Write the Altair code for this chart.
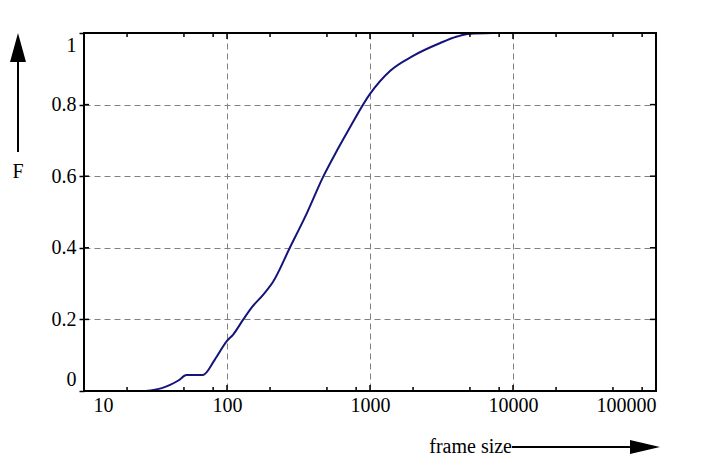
"""CDF of frame sizes on a log axis."""
import altair as alt
import pandas as pd

# curve
frame_size = [27, 35, 40, 46, 52, 68, 82, 100, 110, 130, 150, 180, 210, 275,
              362, 470, 590, 725, 1000, 1380, 2000, 3100, 4060, 5000, 7200]
cdf = [0, 0.008, 0.017, 0.03, 0.045, 0.045, 0.087, 0.14, 0.157, 0.2, 0.235,
       0.27, 0.305, 0.40, 0.497, 0.598, 0.673, 0.737, 0.83, 0.894,
       0.936, 0.972, 0.99, 0.998, 1.0]

x_major = [10, 100, 1000, 10000, 100000]
x_minor = [20, 50, 80, 200, 500, 800, 2000, 5000, 8000, 20000, 50000, 80000]
y_major = [0, 0.2, 0.4, 0.6, 0.8, 1]

W, H = 572, 358
FONT = "Liberation Serif"

x_scale = alt.Scale(type="log", domain=[10, 100000], nice=False)
y_scale = alt.Scale(domain=[0, 1], nice=False, zero=False)

# same axis objects on every layer so vega-lite merges them
x_axis = alt.Axis(values=x_major, format="d", ticks=False, labelFlush=True,
                  labelFont=FONT, labelFontSize=20, labelColor="black",
                  labelPadding=4, gridDash=[6, 4], gridColor="#808080",
                  labelOffset={"condition": {"test": "datum.value <= 10", "value": 9},
                               "value": 0})
y_axis = alt.Axis(values=y_major, format="~g", tickSize=5, tickColor="black",
                  labelFont=FONT, labelFontSize=20, labelColor="black",
                  tickWidth=1.5, labelPadding=3, labelFlush=True, labelFlushOffset=-2,
                  gridDash=[6, 4], gridColor="#808080")

curve = pd.DataFrame({"size": frame_size, "F": cdf})

line = alt.Chart(curve).mark_line(color="#14147a", strokeWidth=2, interpolate="monotone").encode(
    x=alt.X("size:Q", scale=x_scale, title=None, axis=x_axis),
    y=alt.Y("F:Q", scale=y_scale, title=None, axis=y_axis),
)

xmaj = pd.DataFrame({"v": x_major[1:-1]})
xmin = pd.DataFrame({"v": x_minor})
ymaj = pd.DataFrame({"v": y_major[1:-1]})


def x_ticks(df, y0, y1):
    return alt.Chart(df).mark_rule(color="black", strokeWidth=1.5).encode(
        x=alt.X("v:Q", scale=x_scale, title=None, axis=x_axis),
        y=alt.value(y0), y2=alt.value(y1))


def y_ticks(df, x0, x1):
    return alt.Chart(df).mark_rule(color="black", strokeWidth=1.5).encode(
        y=alt.Y("v:Q", scale=y_scale, title=None, axis=y_axis),
        x=alt.value(x0), x2=alt.value(x1))


ticks = [
    x_ticks(xmaj, H, H - 6), x_ticks(xmaj, 0, 6),
    x_ticks(xmin, H, H - 4), x_ticks(xmin, 0, 4),
    y_ticks(ymaj, W, W - 6), y_ticks(ymaj, 0, 5),
]

one = pd.DataFrame({"t": ["F"]})
frame = alt.Chart(one).mark_rect(fill=None, stroke="black", strokeWidth=2).encode(
    x=alt.value(0), x2=alt.value(W), y=alt.value(0), y2=alt.value(H))
y_arrow_line = alt.Chart(one).mark_rule(color="black", strokeWidth=2).encode(
    x=alt.value(-66), y=alt.value(25), y2=alt.value(119))
y_arrow_head = alt.Chart(one).mark_point(
    shape="M0,-1L0.55,1L-0.55,1Z", filled=True, color="black", opacity=1, size=841
).encode(x=alt.value(-66), y=alt.value(14.5))
y_title = alt.Chart(one).mark_text(font=FONT, fontSize=20, color="black", baseline="middle").encode(
    text="t:N", x=alt.value(-66), y=alt.value(139))

xt = pd.DataFrame({"t": ["frame size"]})
x_title = alt.Chart(xt).mark_text(font=FONT, fontSize=20, color="black",
                                  align="right", baseline="middle").encode(
    text="t:N", x=alt.value(428), y=alt.value(414))
x_arrow_line = alt.Chart(xt).mark_rule(color="black", strokeWidth=2).encode(
    x=alt.value(428), x2=alt.value(550), y=alt.value(414))
x_arrow_head = alt.Chart(xt).mark_point(
    shape="M1,0L-1,-0.47L-1,0.47Z", filled=True, color="black", opacity=1, size=900
).encode(x=alt.value(561), y=alt.value(414))

chart = alt.layer(
    line, *ticks, frame, y_arrow_line, y_arrow_head, y_title, x_title, x_arrow_line, x_arrow_head
).properties(
    width=W, height=H,
    autosize=alt.AutoSizeParams(type="none"),
    padding={"left": 76, "top": 25, "right": 44, "bottom": 72},
    background="white",
).configure_view(
    stroke="black", strokeWidth=2
).configure_axis(
    labelFont=FONT, labelFontSize=20, labelColor="black", domain=False,
)

chart.save("out.html", embed_options={"renderer": "svg", "actions": False})
